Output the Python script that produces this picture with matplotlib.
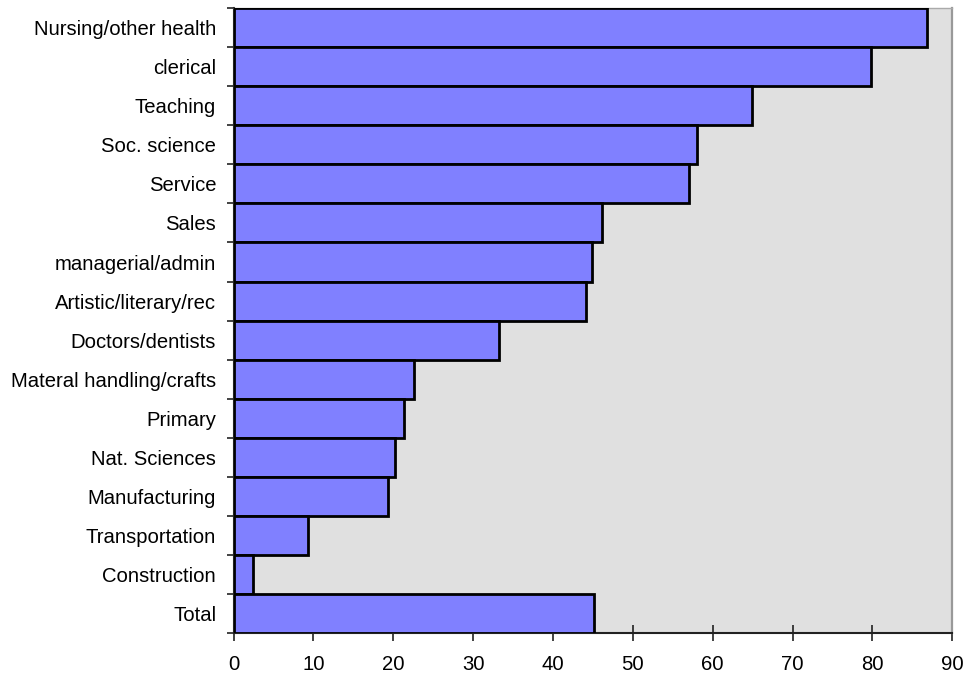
import numpy as np
import matplotlib.pyplot as plt

# share of women by occupation, top row first
occupations = ["Nursing/other health", "clerical", "Teaching", "Soc. science",
               "Service", "Sales", "managerial/admin", "Artistic/literary/rec",
               "Doctors/dentists", "Materal handling/crafts", "Primary",
               "Nat. Sciences", "Manufacturing", "Transportation",
               "Construction", "Total"]
share = [86.8, 79.8, 64.9, 58.0, 57.0, 46.2, 44.9, 44.1,
         33.3, 22.6, 21.4, 20.2, 19.4, 9.3, 2.4, 45.1]
xticks = [0, 10, 20, 30, 40, 50, 60, 70, 80, 90]

plt.rcParams['font.family'] = ['Liberation Sans', 'DejaVu Sans']

fig = plt.figure(figsize=(9.67, 6.79), dpi=100)
ax = fig.add_axes([0.2415, 0.0673, 0.7433, 0.9209])
ax.set_facecolor("#e0e0e0")

n = len(occupations)
ypos = np.arange(n)[::-1]
ax.barh(ypos, share, height=1.0, color="#8080ff",
        edgecolor="black", linewidth=2.0, zorder=3)

ax.set_xlim(0, 90)
ax.set_ylim(-0.5, n - 0.5)
ax.set_xticks(xticks)
ax.set_xticklabels([str(t) for t in xticks], fontsize=14.6)

# category labels at bar centres, tick marks between bars
ax.set_yticks(ypos)
ax.set_yticklabels(occupations, fontsize=14.6)
ax.tick_params(axis="y", which="major", length=0, pad=12.5)
ax.set_yticks(np.arange(n + 1) - 0.5, minor=True)
ax.tick_params(axis="y", which="minor", length=5, width=1.2, color="#222222")
ax.tick_params(axis="x", direction="inout", length=12, width=1.2,
               color="#222222", pad=9.5)

ax.spines["top"].set_color("#aaaaaa")
ax.spines["top"].set_linewidth(1.0)
ax.spines["right"].set_color("#999999")
ax.spines["right"].set_linewidth(1.6)
ax.spines["bottom"].set_color("#222222")
ax.spines["bottom"].set_linewidth(1.5)
ax.spines["left"].set_color("#222222")
ax.spines["left"].set_linewidth(1.5)

fig.savefig("out.png", dpi=100)
